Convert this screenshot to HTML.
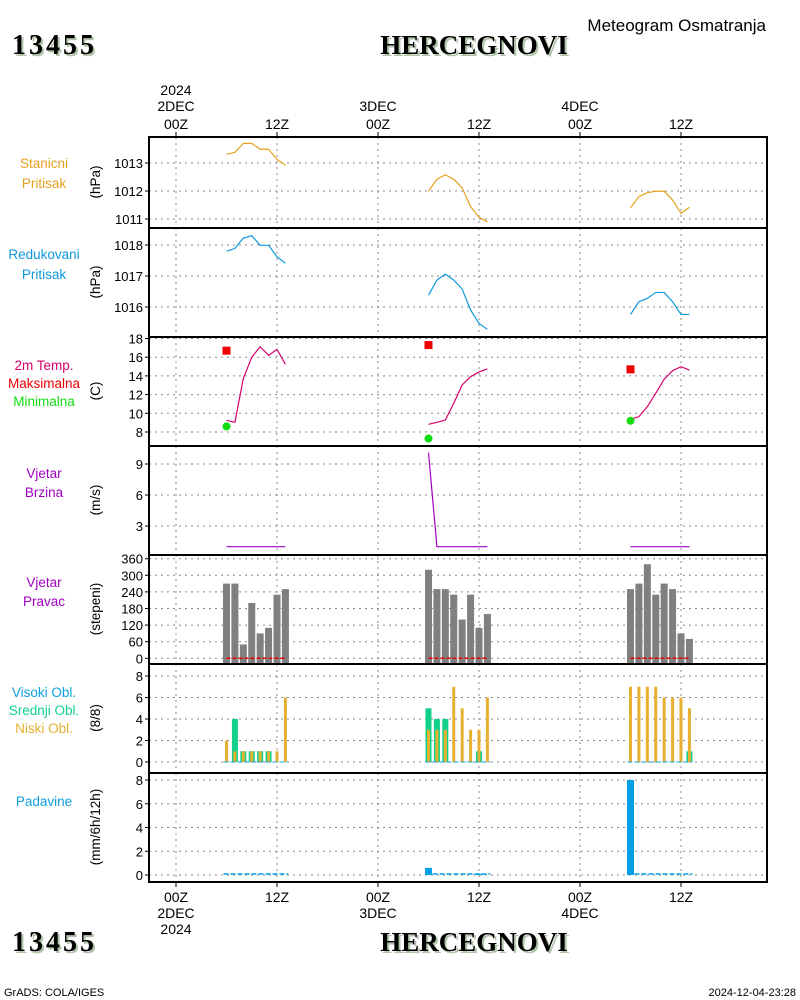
<!DOCTYPE html>
<html><head><meta charset="utf-8"><style>
html,body{margin:0;padding:0;background:#fff;}
svg{display:block;}
text{font-family:"Liberation Sans",sans-serif;}
.t{font-family:"Liberation Serif",serif;font-weight:bold;font-size:27px;}
.n{letter-spacing:3px;font-size:28px;}
</style></head><body>
<svg id="c" width="800" height="1000" viewBox="0 0 800 1000" xmlns="http://www.w3.org/2000/svg">
<g>
<text x="14" y="56" class="t n" fill="#b0c4a8">13455</text>
<text x="12" y="54" class="t n" fill="#000">13455</text>
<text x="476" y="56" class="t" fill="#b0c4a8" text-anchor="middle">HERCEGNOVI</text>
<text x="474" y="54" class="t" fill="#000" text-anchor="middle">HERCEGNOVI</text>
<text x="766" y="31" font-size="17" text-anchor="end">Meteogram Osmatranja</text>
<text x="14" y="953" class="t n" fill="#b0c4a8">13455</text>
<text x="12" y="951" class="t n" fill="#000">13455</text>
<text x="476" y="953" class="t" fill="#b0c4a8" text-anchor="middle">HERCEGNOVI</text>
<text x="474" y="951" class="t" fill="#000" text-anchor="middle">HERCEGNOVI</text>
<text x="4" y="996" font-size="11">GrADS: COLA/IGES</text>
<text x="796" y="996" font-size="11" text-anchor="end">2024-12-04-23:28</text>
</g>
</svg>
<script>
// ---- data (hourly observations 06Z..13Z each day) ----
const days = [0, 24, 48];
const obsHours = [6,7,8,9,10,11,12,13];
const stnPres = [
 [1013.31,1013.38,1013.70,1013.70,1013.49,1013.49,1013.13,1012.92],
 [1011.99,1012.42,1012.58,1012.42,1012.11,1011.44,1011.06,1010.90],
 [1011.40,1011.80,1011.94,1011.99,1011.99,1011.68,1011.20,1011.42]];
const redPres = [
 [1017.80,1017.89,1018.22,1018.30,1017.99,1017.99,1017.62,1017.41],
 [1016.38,1016.87,1017.06,1016.87,1016.58,1015.90,1015.47,1015.28],
 [1015.76,1016.17,1016.28,1016.47,1016.47,1016.17,1015.76,1015.76]];
const temp = [
 [9.25,9.04,13.74,15.99,17.12,16.20,16.84,15.24],
 [8.82,9.04,9.28,11.07,13.03,13.92,14.42,14.74],
 [9.36,9.64,10.71,12.14,13.64,14.56,14.98,14.63]];
const tMax = [16.7, 17.3, 14.7];
const tMin = [8.6, 7.3, 9.2];
const windSpd = [
 [1,1,1,1,1,1,1,1],
 [10.1,1,1,1,1,1,1,1],
 [1,1,1,1,1,1,1,1]];
const windDir = [
 [270,270,50,200,90,110,230,250],
 [320,250,250,230,140,230,110,160],
 [250,270,340,230,270,250,90,70]];
const cloudHigh = [[0,0,0,0,0,0,0,0],[0,0,0,0,0,0,0,0],[0,0,0,0,0,0,0,0]];
const cloudMid = [[0,4,1,1,1,1,0,0],[5,4,4,0,0,0,1,0],[0,0,0,0,0,0,0,1]];
const cloudLow = [[2,1,1,1,1,1,1,6],[3,3,3,7,5,3,3,6],[7,7,7,7,6,6,6,5]];
const precip = [[0,0,0,0,0,0,0,0],[0.6,0,0,0,0,0,0.1,0],[8,0,0,0,0,0,0,0]];
const xTickHours = [0,12,24,36,48,60];
const xTickLabels = ["00Z","12Z","00Z","12Z","00Z","12Z"];
const ticks1 = [1011,1012,1013];
const ticks2 = [1016,1017,1018];
const ticks3 = [8,10,12,14,16,18];
const ticks4 = [3,6,9];
const ticks5 = [0,60,120,180,240,300,360];
const ticks6 = [0,2,4,6,8];
const ticks7 = [0,2,4,6,8];

const svg = document.getElementById('c');
const NS = 'http://www.w3.org/2000/svg';
function el(tag, attrs, parent){ const e=document.createElementNS(NS,tag); for(const k in attrs) e.setAttribute(k,attrs[k]); (parent||svg).appendChild(e); return e; }
const L=149, R=767;
function xh(h){ return 176 + h*202/24; }
function lin(v0,y0,v1,y1){ return v=> y0 + (v-v0)*(y1-y0)/(v1-v0); }

const panels = [
 {top:137,bot:228,y:lin(1011,219,1013,163),ticks:ticks1,name:'station-pressure'},
 {top:228,bot:337,y:lin(1016,307,1018,245),ticks:ticks2,name:'reduced-pressure'},
 {top:337,bot:446,y:lin(8,432,18,338.5),ticks:ticks3,name:'temperature'},
 {top:446,bot:555,y:lin(3,526,9,464),ticks:ticks4,name:'wind-speed'},
 {top:555,bot:664,y:lin(0,658.3,360,558.7),ticks:ticks5,name:'wind-direction'},
 {top:664,bot:773,y:lin(0,762,8,676),ticks:ticks6,name:'cloud-cover'},
 {top:773,bot:882,y:lin(0,875,8,780),ticks:ticks7,name:'precipitation'}];

panels.forEach(p=>{
  const g = el('g',{});
  
  
  xTickHours.forEach(h=>{ const l=el('line',{x1:xh(h),x2:xh(h),y1:p.top,y2:p.bot,stroke:'#888','stroke-dasharray':'2,4'},g);
      });
  p.ticks.forEach(v=>{ const y=p.y(v);
    const l=el('line',{x1:L,x2:R,y1:y,y2:y,stroke:'#888','stroke-dasharray':'2,4'},g);
     
    el('line',{x1:L-4,x2:L,y1:y,y2:y,stroke:'#000'},g);
    const t=el('text',{x:L-6,y:y+5,'font-size':13,'text-anchor':'end'},g); t.textContent=v;
     
  });
  p.g=g;
});

function line(p,arr,color,name){
  arr.forEach((d,i)=>{ const pts=obsHours.map((h,j)=>xh(days[i]+h)+','+p.y(d[j])).join(' ');
    const e=el('polyline',{points:pts,fill:'none',stroke:color,'stroke-width':1.2},p.g);
      });
}
line(panels[0],stnPres,'#e6a020','station-pressure-line');
line(panels[1],redPres,'#1098dc','reduced-pressure-line');
line(panels[2],temp,'#d8006c','temperature-line');
line(panels[3],windSpd,'#a000c0','wind-speed-line');
tMax.forEach((v,i)=>{ const e=el('rect',{x:xh(days[i]+6)-4,y:panels[2].y(v)-4,width:8,height:8,fill:'#f00000'},panels[2].g);
    });
tMin.forEach((v,i)=>{ const e=el('circle',{cx:xh(days[i]+6),cy:panels[2].y(v),r:4,fill:'#10dc10'},panels[2].g);
    });
const p5=panels[4];
windDir.forEach((d,i)=>{ d.forEach((v,j)=>{ const x=xh(days[i]+obsHours[j]);
  const e=el('rect',{x:x-3.5,y:p5.y(v),width:7,height:p5.bot-p5.y(v),fill:'#808080'},p5.g);
    });
  const e=el('line',{x1:xh(days[i]+6),x2:xh(days[i]+13),y1:p5.y(0),y2:p5.y(0),stroke:'#f00000','stroke-width':1.5,'stroke-dasharray':'4,2'},p5.g);
    });
const p6=panels[5];
[[cloudHigh,'#10a0e0',6,'high-cloud-bar'],[cloudMid,'#10d08c',6,'mid-cloud-bar'],[cloudLow,'#e6b030',3,'low-cloud-bar']].forEach(([arr,col,w,nm])=>{
  arr.forEach((d,i)=>d.forEach((v,j)=>{ if(v<=0) return; const x=xh(days[i]+obsHours[j]);
    const e=el('rect',{x:x-w/2,y:p6.y(v),width:w,height:p6.y(0)-p6.y(v),fill:col},p6.g);
      }));
});
days.forEach(d=>{ const e=el('line',{x1:xh(d+6)-3,x2:xh(d+13)+3,y1:p6.y(0),y2:p6.y(0),stroke:'#10a0e0','stroke-dasharray':'5,2'},p6.g);
    });
const p7=panels[6];
precip.forEach((d,i)=>{ d.forEach((v,j)=>{ if(v<=0) return; const x=xh(days[i]+obsHours[j]);
  const e=el('rect',{x:x-3.5,y:p7.y(v),width:7,height:p7.y(0)-p7.y(v),fill:'#00a0e6'},p7.g);
    });
  const e=el('line',{x1:xh(days[i]+6)-3,x2:xh(days[i]+13)+3,y1:p7.y(0)-1,y2:p7.y(0)-1,stroke:'#00a0e6','stroke-width':1.5,'stroke-dasharray':'5,2'},p7.g);
    });

panels.forEach(p=>{ const r=el('rect',{x:L,y:p.top,width:R-L,height:p.bot-p.top,fill:'none',stroke:'#000','stroke-width':2});
    });
xTickHours.forEach((h,i)=>{ el('line',{x1:xh(h),x2:xh(h),y1:132,y2:137,stroke:'#000'}); el('line',{x1:xh(h),x2:xh(h),y1:882,y2:887,stroke:'#000'});
  const t=el('text',{x:xh(h),y:129,'font-size':14,'text-anchor':'middle'}); t.textContent=xTickLabels[i];
   
  const b=el('text',{x:xh(h),y:902,'font-size':14,'text-anchor':'middle'}); b.textContent=xTickLabels[i];
    });
[["2024",0,95],["2DEC",0,111],["3DEC",24,111],["4DEC",48,111]].forEach(([s,h,y])=>{
  const t=el('text',{x:xh(h),y:y,'font-size':14,'text-anchor':'middle'}); t.textContent=s;
    });
[["2DEC",0,918],["2024",0,934],["3DEC",24,918],["4DEC",48,918]].forEach(([s,h,y])=>{
  const t=el('text',{x:xh(h),y:y,'font-size':14,'text-anchor':'middle'}); t.textContent=s;
    });
const leftLabels=[
 [["Stanicni","#e6a020",168],["Pritisak","#e6a020",188]],
 [["Redukovani","#1098dc",259],["Pritisak","#1098dc",279]],
 [["2m Temp.","#d8006c",370],["Maksimalna","#f00000",388],["Minimalna","#10dc10",406]],
 [["Vjetar","#a000c0",478],["Brzina","#a000c0",497]],
 [["Vjetar","#a000c0",587],["Pravac","#a000c0",606]],
 [["Visoki Obl.","#10a0e0",697],["Srednji Obl.","#10d08c",715],["Niski Obl.","#e6b030",733]],
 [["Padavine","#10a0e0",806]]];
leftLabels.forEach(grp=>grp.forEach(([s,c,y])=>{ const t=el('text',{x:44,y:y,'font-size':13.5,fill:c,'text-anchor':'middle'}); t.textContent=s;
    }));
const units=[["(hPa)",182],["(hPa)",282],["(C)",391],["(m/s)",500],["(stepeni)",609],["(8/8)",718],["(mm/6h/12h)",827]];
units.forEach(([s,y])=>{ const t=el('text',{x:0,y:0,'font-size':13.5,'text-anchor':'middle',transform:`translate(100,${y}) rotate(-90)`}); t.textContent=s;
    });
</script>
</body></html>
